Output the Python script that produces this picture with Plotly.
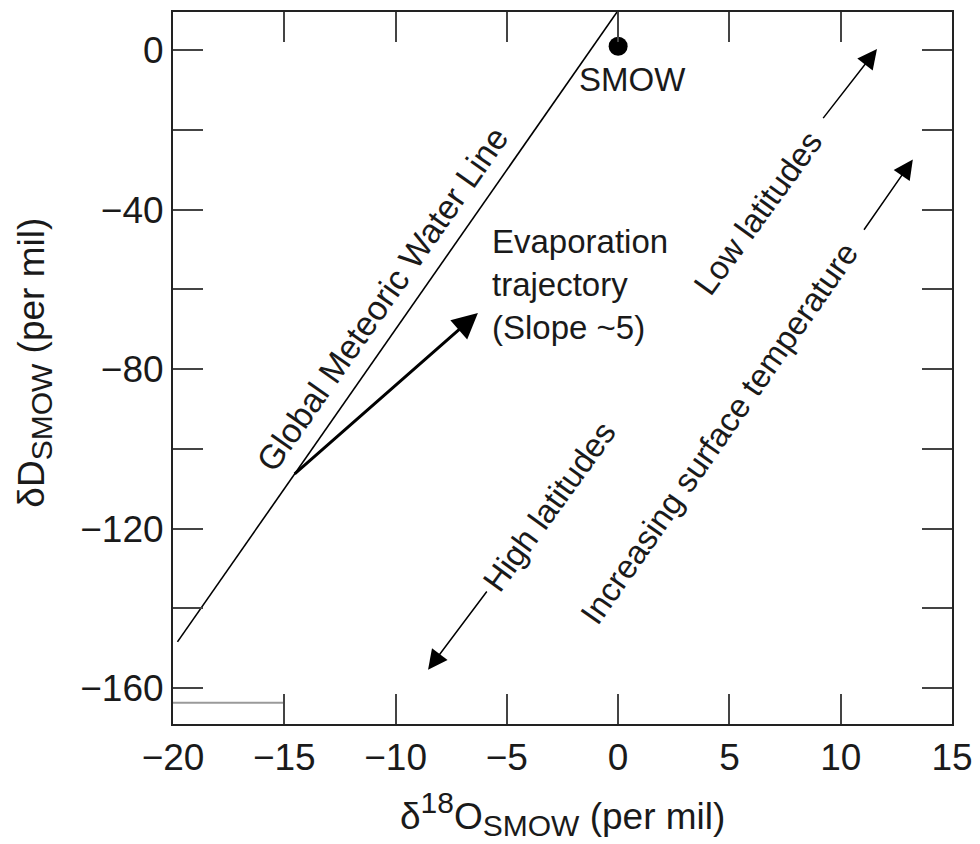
import plotly.graph_objects as go

# ---- data ----
gmwl_x = [-19.8, 0.0]
gmwl_y = [-148.4, 10.0]

smow_x = [0.0]
smow_y = [1.0]

artifact_x = [-20.0, -15.0]
artifact_y = [-163.7, -163.7]

# arrows: [tail_x, tail_y, head_x, head_y]
evap_arrow = [-14.6, -106.6, -6.3, -65.9]
low_lat_arrow = [9.16, -17.4, 11.63, 0.3]
temp_arrow = [11.0, -45.4, 13.24, -27.4]
high_lat_arrow = [-5.85, -135.4, -8.54, -155.4]

x_ticks = [-20, -15, -10, -5, 0, 5, 10, 15]
y_ticks = [-160, -140, -120, -100, -80, -60, -40, -20, 0]
y_ticktext = ["\u2212160", "", "\u2212120", "", "\u221280", "", "\u221240", "", "0"]

FONT = "Liberation Sans, Arial, Helvetica, sans-serif"

fig = go.Figure()
fig.add_trace(go.Scatter(x=artifact_x, y=artifact_y, mode="lines",
                         line=dict(color="#9a9a9a", width=2), hoverinfo="skip"))
fig.add_trace(go.Scatter(x=gmwl_x, y=gmwl_y, mode="lines",
                         line=dict(color="black", width=1.6), hoverinfo="skip"))
fig.add_trace(go.Scatter(x=smow_x, y=smow_y, mode="markers",
                         marker=dict(color="black", size=19), hoverinfo="skip"))

ann = []

def arrow(a, width, size):
    ann.append(dict(x=a[2], y=a[3], ax=a[0], ay=a[1], xref="x", yref="y",
                    axref="x", ayref="y", text="", showarrow=True,
                    arrowhead=2, arrowsize=size, arrowwidth=width,
                    arrowcolor="black", standoff=0, startstandoff=0))

arrow(evap_arrow, 3, 1.7)
arrow(low_lat_arrow, 1.5, 2.6)
arrow(temp_arrow, 1.5, 2.6)
arrow(high_lat_arrow, 1.5, 2.6)

txt_font = dict(family=FONT, size=33, color="#1a1a1a")

ann.append(dict(x=0.66, y=-7.4, xref="x", yref="y", text="SMOW", showarrow=False,
                font=txt_font, xanchor="center", yanchor="middle"))
ann.append(dict(x=-5.76, y=-58.7, xref="x", yref="y",
                text="Evaporation<br>trajectory<br>(Slope ~5)", showarrow=False,
                font=txt_font, xanchor="left", yanchor="middle", align="left"))
ann.append(dict(x=-10.6, y=-62.4, xref="x", yref="y", text="Global Meteoric Water Line",
                showarrow=False, font=dict(family=FONT, size=34, color="#1a1a1a"),
                textangle=-55, xanchor="center", yanchor="middle"))
ann.append(dict(x=6.28, y=-40.6, xref="x", yref="y", text="Low latitudes",
                showarrow=False, font=txt_font, textangle=-54,
                xanchor="center", yanchor="middle"))
ann.append(dict(x=4.57, y=-96.0, xref="x", yref="y", text="Increasing surface temperature",
                showarrow=False, font=txt_font, textangle=-55,
                xanchor="center", yanchor="middle"))
ann.append(dict(x=-3.11, y=-114.4, xref="x", yref="y", text="High latitudes",
                showarrow=False, font=txt_font, textangle=-54,
                xanchor="center", yanchor="middle"))

title_font = dict(family=FONT, size=37, color="#1a1a1a")
sub = "<span style='font-size:30px'>SMOW</span>"
ann.append(dict(x=0.5, y=-0.126, xref="paper", yref="paper",
                text="\u03b4<sup><span style='font-size:30px'>18</span></sup>O<sub>" + sub + "</sub> (per mil)",
                showarrow=False, font=title_font, xanchor="center", yanchor="middle"))
ann.append(dict(x=-0.178, y=0.508, xref="paper", yref="paper",
                text="\u03b4D<sub>" + sub + "</sub> (per mil)", showarrow=False,
                font=title_font, textangle=-90, xanchor="center", yanchor="middle"))

axis_common = dict(showline=True, linecolor="#222", linewidth=2, mirror="ticks",
                   ticks="inside", ticklen=30, tickwidth=2, tickcolor="#444",
                   showgrid=False, zeroline=False, ticklabelstandoff=0,
                   tickfont=dict(family=FONT, size=37, color="#1a1a1a"))

fig.update_layout(
    width=972, height=836,
    margin=dict(l=165, r=28, t=2, b=120),
    paper_bgcolor="white", plot_bgcolor="white",
    showlegend=False,
    annotations=ann,
    xaxis=dict(range=[-20, 15], tickvals=x_ticks,
               ticktext=[("\u2212" + str(-v)) if v < 0 else str(v) for v in x_ticks],
               **axis_common),
    yaxis=dict(range=[-169, 9.6], tickvals=y_ticks, ticktext=y_ticktext, **axis_common),
)

fig.write_html("out.html")
